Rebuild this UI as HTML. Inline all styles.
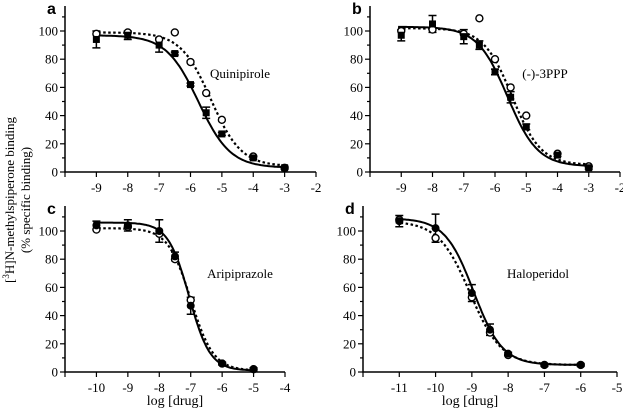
<!DOCTYPE html>
<html><head><meta charset="utf-8"><style>
body{margin:0;background:#fff;}
svg text{font-family:"Liberation Serif",serif;fill:#000;}
</style></head><body>
<svg id="chart" width="623" height="412" viewBox="0 0 623 412" xmlns="http://www.w3.org/2000/svg">
<text transform="translate(14,200) rotate(-90)" text-anchor="middle" font-size="13">[<tspan font-size="9" dy="-5">3</tspan><tspan dy="5">H]N-methylspiperone binding</tspan></text>
<text transform="translate(30,200) rotate(-90)" text-anchor="middle" font-size="13">(% specific binding)</text>
<text x="175" y="405" text-anchor="middle" font-size="14">log [drug]</text>
<text x="470" y="405" text-anchor="middle" font-size="14">log [drug]</text>
</svg>
<script>
const labelsP = ['a','b','c','d'];
const drugs = ['Quinipirole','(-)-3PPP','Aripiprazole','Haloperidol'];
const dosesA = [-9,-8,-7,-6.5,-6,-5.5,-5,-4,-3];
const filledA = [94,97,90,84,62,42,27,10,3];
const errA = [6,3,5,1,1,4,1,1,1];
const openA = [98,99,94,99,78,56,37,11,3];
const dosesB = [-9,-8,-7,-6.5,-6,-5.5,-5,-4,-3];
const filledB = [97,105,96,90,71,53,32,12,3];
const errB = [4,6,5,3,2,4,2,1,1];
const openB = [100,101,98,109,80,60,40,13,4];
const dosesC = [-10,-9,-8,-7.5,-7,-6,-5];
const filledC = [104,104,100,82,47,6,2];
const errC = [3,4,8,3,6,1,1];
const openC = [101,103,98,80,51,6,2];
const dosesD = [-11,-10,-9,-8.5,-8,-7,-6];
const filledD = [107,102,56,30,13,5,5];
const errD = [4,10,6,4,1,1,1];
const openD = [108,95,53,28,12,5,5];
// fit params: top, bottom, logIC50, hill
const fitFilled = [[97,3,-5.75,0.85],[103,4,-5.6,0.9],[106,1,-7.05,1.3],[109,5,-8.95,1.1]];
const fitOpen = [[99,4,-5.35,0.9],[102,5,-5.45,0.95],[102,1,-7.0,1.2],[107,5,-9.05,1.0]];
const xMin = [-10,-10,-11,-12];
const xMax = [-2,-2,-4,-5];
const yTicks = [0,20,40,60,80,100];

const svg = document.getElementById('chart');
const NS='http://www.w3.org/2000/svg';
function el(tag,attrs,parent){const e=document.createElementNS(NS,tag);for(const k in attrs)e.setAttribute(k,attrs[k]);(parent||svg).appendChild(e);return e;}
const geom=[{x0:65,x1:316,y0:172},{x0:370,x1:620,y0:172},{x0:65,x1:285,y0:372},{x0:363,x1:617,y0:372}];
const doses=[dosesA,dosesB,dosesC,dosesD], fills=[filledA,filledB,filledC,filledD], opens=[openA,openB,openC,openD], errs=[errA,errB,errC,errD];
for(let p=0;p<4;p++){
  const g=el('g',{});
  
  
  const G=geom[p];
  const sx=v=>G.x0+(v-xMin[p])/(xMax[p]-xMin[p])*(G.x1-G.x0);
  const sy=v=>G.y0-v*1.41;
  const ax=el('path',{d:`M${G.x0},${G.y0-166}V${G.y0}H${G.x1}`,stroke:'#000','stroke-width':1.5,fill:'none'},g);
  
  
  for(let v=0;v<=110;v+=10){el('line',{x1:G.x0-(v%20?3:5),x2:G.x0,y1:sy(v),y2:sy(v),stroke:'#000','stroke-width':1.2},g);}
  yTicks.forEach(v=>{const t=el('text',{x:G.x0-7,y:sy(v)+4.5,'text-anchor':'end','font-size':13},g);t.textContent=v;
    
    });
  for(let v=xMin[p];v<=xMax[p];v++){el('line',{x1:sx(v),x2:sx(v),y1:G.y0,y2:G.y0+5,stroke:'#000','stroke-width':1.2},g);
    if(v>xMin[p]){const t=el('text',{x:sx(v),y:G.y0+20,'text-anchor':'middle','font-size':13},g);t.textContent=v;
    
    }}
  const lt=el('text',{x:G.x0-18,y:G.y0-158,'font-size':16,'font-weight':'bold',style:'font-family:"Liberation Sans",sans-serif'},g);lt.textContent=labelsP[p];
  
  
  const dt=el('text',{x:G.x0+175,y:G.y0-94,'text-anchor':'middle','font-size':13},g);dt.textContent=drugs[p];
  
  
  [[fitFilled[p],'none'],[fitOpen[p],'2.5,2.5']].forEach(([f,dash],i)=>{
    let d='';const a=doses[p][0]-0.1,b=doses[p][doses[p].length-1]+0.1;
    for(let k=0;k<=120;k++){const x=a+(b-a)*k/120;const y=f[1]+(f[0]-f[1])/(1+Math.pow(10,(x-f[2])*f[3]));d+=(k?'L':'M')+sx(x).toFixed(1)+','+sy(y).toFixed(1);}
    const c=el('path',{d,stroke:'#000','stroke-width':i?2.2:2,fill:'none','stroke-dasharray':dash},g);
    
    
  });
  doses[p].forEach((x,k)=>{
    const X=sx(x),Y=sy(fills[p][k]),e=errs[p][k]*1.41;
    const eb=el('path',{d:`M${X},${Y-e}V${Y+e}M${X-4},${Y-e}H${X+4}M${X-4},${Y+e}H${X+4}`,stroke:'#000','stroke-width':1.5,fill:'none'},g);
    
    
    const o=el('circle',{cx:X,cy:sy(opens[p][k]),r:3.5,fill:'#fff',stroke:'#000','stroke-width':1.4},g);
    
    
    let s;
    if(p<2) s=el('rect',{x:X-3.5,y:Y-3.5,width:7,height:7,fill:'#000'},g);
    else s=el('circle',{cx:X,cy:Y,r:4,fill:'#000'},g);
    
    
  });
}
</script>
</body></html>
